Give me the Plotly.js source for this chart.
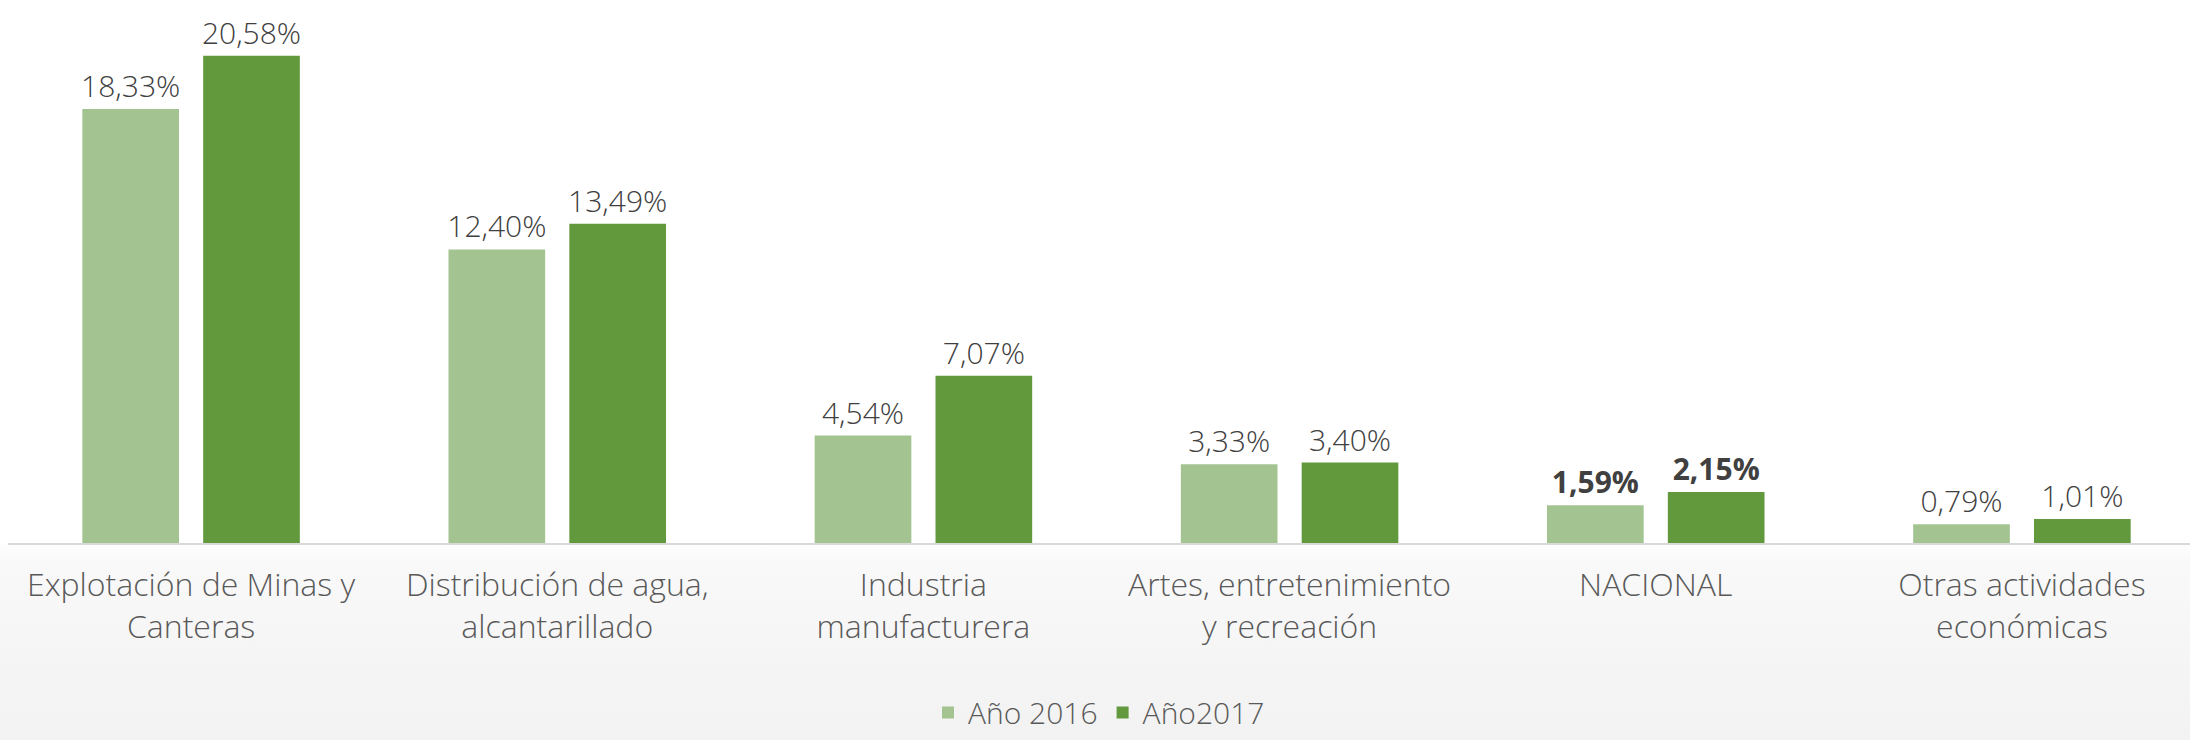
<!DOCTYPE html>
<html>
<head>
<meta charset="utf-8">
<script src="https://cdn.plot.ly/plotly-3.0.1.min.js"></script>
<style>
  html, body { margin: 0; padding: 0; }
  body { background: linear-gradient(to bottom, #ffffff 0px, #ffffff 540px, #f9f9f9 560px, #f2f2f2 740px); }
  #chart { width: 2190px; height: 740px; }
</style>
</head>
<body>
<div id="chart"></div>
<script>
const categories = [
  "Explotación de Minas y<br>Canteras",
  "Distribución de agua,<br>alcantarillado",
  "Industria<br>manufacturera",
  "Artes, entretenimiento<br>y recreación",
  "NACIONAL",
  "Otras actividades<br>económicas"
];
const values2016 = [18.33, 12.40, 4.54, 3.33, 1.59, 0.79];
const values2017 = [20.58, 13.49, 7.07, 3.40, 2.15, 1.01];
const seriesNames = ["Año 2016", "Año2017"];
const boldCategory = "NACIONAL";

function labels(vals) {
  return vals.map((v, i) => {
    const s = v.toFixed(2).replace('.', ',') + '%';
    return categories[i] === boldCategory ? '<b>' + s + '</b>' : s;
  });
}

const FAM = "'Open Sans', Lato, sans-serif";
const labelFont = { family: FAM, size: 30, color: "#404040", weight: 300 };

const traces = [
  {
    type: 'bar', name: seriesNames[0], x: categories, y: values2016,
    text: labels(values2016), textposition: 'outside', textfont: labelFont,
    constraintext: 'none', cliponaxis: false,
    marker: { color: '#a3c490' }, hoverinfo: 'skip'
  },
  {
    type: 'bar', name: seriesNames[1], x: categories, y: values2017,
    text: labels(values2017), textposition: 'outside', textfont: labelFont,
    constraintext: 'none', cliponaxis: false,
    marker: { color: '#62993c' }, hoverinfo: 'skip'
  }
];

const layout = {
  width: 2190, height: 740,
  margin: { l: 8, r: 0, t: 0, b: 197, autoexpand: false },
  paper_bgcolor: 'rgba(0,0,0,0)',
  plot_bgcolor: 'rgba(0,0,0,0)',
  barmode: 'group',
  bargap: 0.34,
  bargroupgap: 0.2,
  font: { family: FAM, color: '#595959', weight: 300 },
  xaxis: {
    type: 'category',
    range: [-0.5, 5.459],
    showline: true, linecolor: '#d9d9d9', linewidth: 2,
    showgrid: false, zeroline: false, ticks: '',
    ticklabelstandoff: 13,
    tickfont: { family: FAM, size: 32, color: '#595959', weight: 300 }
  },
  yaxis: {
    range: [0, 22.94],
    visible: false, showgrid: false, zeroline: false
  },
  showlegend: true,
  legend: {
    orientation: 'h', x: 0.5, xanchor: 'center',
    y: -0.312, yanchor: 'middle',
    itemwidth: 30,
    font: { family: FAM, size: 30, color: '#595959', weight: 300 },
    bgcolor: 'rgba(0,0,0,0)'
  }
};

Plotly.newPlot('chart', traces, layout, { displayModeBar: false, staticPlot: true });
</script>
</body>
</html>
